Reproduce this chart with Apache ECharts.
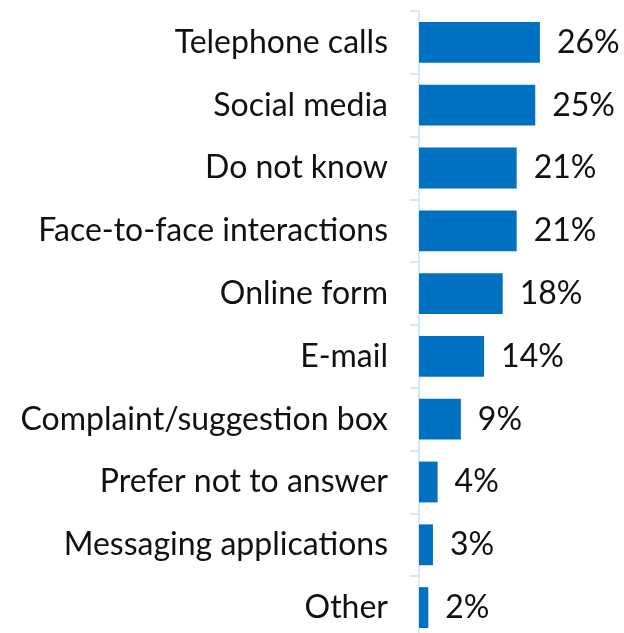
<!DOCTYPE html>
<html>
<head>
<meta charset="utf-8">
<script src="https://cdn.jsdelivr.net/npm/echarts@6/dist/echarts.min.js"></script>
<style>
  html, body { margin: 0; padding: 0; background: #ffffff; overflow: hidden; }
  #chart { width: 624px; height: 645px; }
</style>
</head>
<body>
<div id="chart"></div>
<script>
// Reported contact channels, share of respondents (%)
const categories = [
  'Telephone calls',
  'Social media',
  'Do not know',
  'Face-to-face interactions',
  'Online form',
  'E-mail',
  'Complaint/suggestion box',
  'Prefer not to answer',
  'Messaging applications',
  'Other'
];
const values = [26, 25, 21, 21, 18, 14, 9, 4, 3, 2];

const chart = echarts.init(document.getElementById('chart'), null, { renderer: 'canvas' });

chart.setOption({
  animation: false,
  backgroundColor: '#ffffff',
  textStyle: { fontFamily: 'Lato' },
  grid: { left: 419, width: 186, top: 11, height: 628, containLabel: false },
  xAxis: {
    type: 'value',
    min: 0,
    max: 40,
    show: false
  },
  yAxis: {
    type: 'category',
    data: categories,
    inverse: true,
    axisLine: { show: true, lineStyle: { color: '#c9e2f6', width: 1.5 } },
    axisTick: { show: true, length: 9, lineStyle: { color: '#c9e2f6', width: 1.5 } },
    axisLabel: { color: '#111111', fontSize: 32, fontFamily: 'Lato', margin: 31 },
    splitLine: { show: false }
  },
  series: [{
    type: 'bar',
    data: values,
    barCategoryGap: '35%',
    itemStyle: { color: '#0070c0' },
    label: {
      show: true,
      position: 'right',
      distance: 17,
      formatter: p => p.value + '%',
      color: '#111111',
      fontSize: 32,
      fontFamily: 'Lato'
    }
  }]
});
</script>
</body>
</html>
